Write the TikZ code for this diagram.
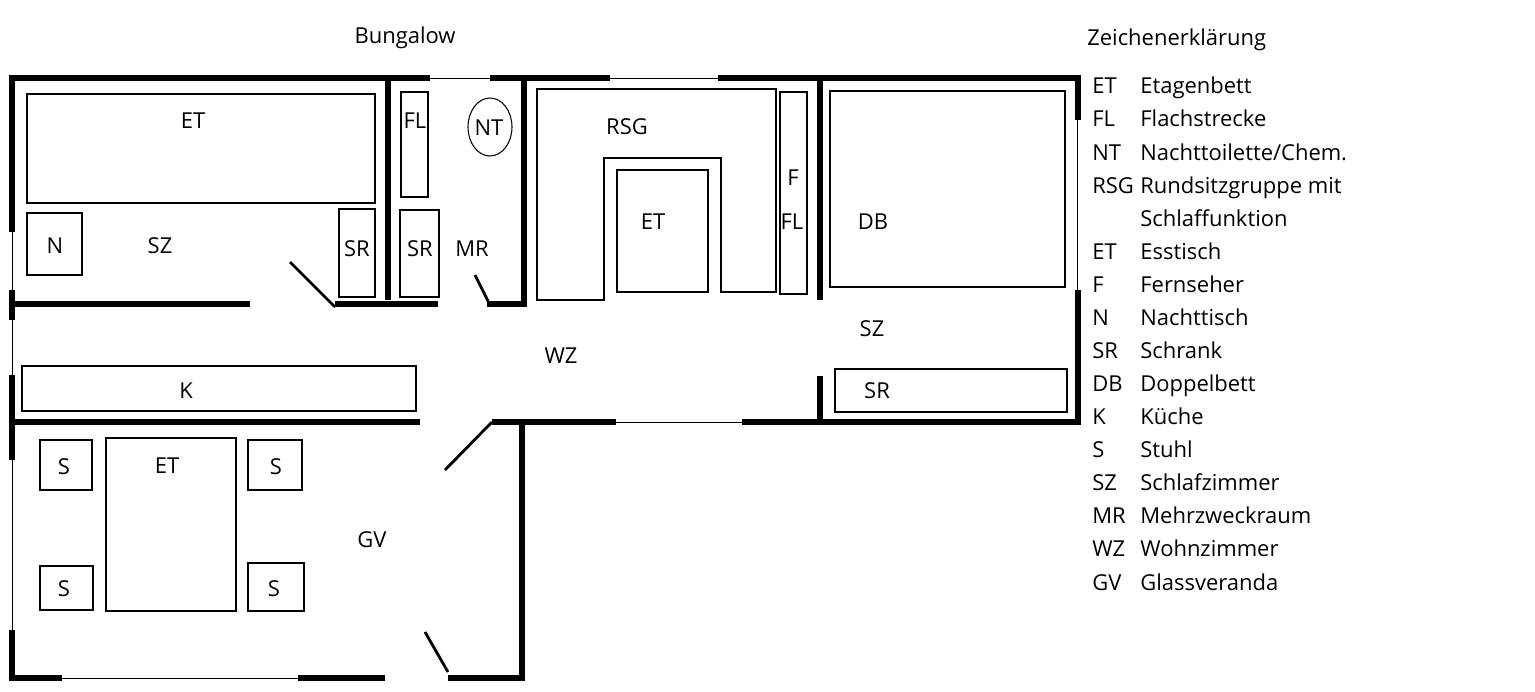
\documentclass[tikz,border=0pt]{standalone}
\usepackage{fontspec}
\setmainfont{Open Sans}
\begin{document}
\begin{tikzpicture}[x=0.02cm,y=-0.02cm,
  wall/.style={line width=3.4pt,line cap=butt},
  win/.style={line width=0.5pt},
  furn/.style={draw,line width=0.6pt},
  lbl/.style={font=\fontsize{12.5}{14}\selectfont,inner sep=0pt},
  lg/.style={font=\fontsize{12.5}{14}\selectfont,inner sep=0pt,anchor=west,text height=9pt,text depth=3pt}]
\useasboundingbox (0,0) rectangle (1535,691);
% outer walls
\draw[wall] (12,76) -- (12,232); \draw[wall] (12,290) -- (12,320); \draw[wall] (12,375) -- (12,460); \draw[wall] (12,630) -- (12,681);
\draw[win] (12,232) -- (12,290); \draw[win] (12,320) -- (12,375); \draw[win] (12,460) -- (12,630);
\draw[wall] (9,78) -- (430,78); \draw[wall] (490,78) -- (610,78); \draw[wall] (718,78) -- (1081,78);
\draw[win] (430,78) -- (490,78); \draw[win] (610,78) -- (718,78);
\draw[wall] (1078,75) -- (1078,120); \draw[wall] (1078,290) -- (1078,425);
\draw[win] (1077,120) -- (1077,290);
\draw[wall] (9,678) -- (62,678); \draw[wall] (298,678) -- (385,678); \draw[win] (62,678) -- (298,678);
\draw[wall] (448,678) -- (525,678); \draw[wall] (522,422) -- (522,681);
% interior walls
\draw[wall] (388,78) -- (388,300);
\draw[wall] (524,78) -- (524,307);
\draw[wall] (820,78) -- (820,300);
\draw[wall] (12,304) -- (250,304);
\draw[wall] (335,304) -- (438,304);
\draw[wall] (487,304) -- (527,304);
\draw[wall] (12,422) -- (420,422);
\draw[wall] (492,422) -- (616,422); \draw[wall] (742,422) -- (1081,422);
\draw[win] (616,422) -- (742,422);
\draw[wall] (820,376) -- (820,422);
% doors
\draw[line width=1.6pt] (290,262) -- (335,307);
\draw[line width=1.6pt] (475,275) -- (490,305);
\draw[line width=1.6pt] (445,470) -- (492,422);
\draw[line width=1.6pt] (425,632) -- (448,672);
% furniture
\draw[furn] (27,94) rectangle (375,203); \node[lbl] (et1) at (193,121) {ET};
\draw[furn] (27,213) rectangle (82,275); \node[lbl] (n1) at (55,246) {N};
\node[lbl] (sz1) at (160,246) {SZ};
\draw[furn] (339,209) rectangle (375,297); \node[lbl] (sr1) at (357,249) {SR};
\draw[furn] (401,92) rectangle (428,197); \node[lbl] (fl1) at (415,121) {FL};
\draw[furn] (490,127) ellipse (22 and 29); \node[lbl] (nt) at (489,128) {NT};
\draw[furn] (400,210) rectangle (439,297); \node[lbl] (sr2) at (420,249) {SR};
\node[lbl] (mr) at (472,249) {MR};
\draw[furn] (537,89) -- (776,89) -- (776,292) -- (721,292) -- (721,158) -- (604,158) -- (604,300) -- (537,300) -- cycle;
\node[lbl] (rsg) at (627,127) {RSG};
\draw[furn] (617,170) rectangle (708,292); \node[lbl] (et2) at (653,222) {ET};
\draw[furn] (780,92) rectangle (807,294); \node[lbl] (f) at (793,178) {F}; \node[lbl] (fl2) at (792,222) {FL};
\draw[furn] (830,91) rectangle (1065,287); \node[lbl] (db) at (873,222) {DB};
\node[lbl] (sz2) at (872,329) {SZ};
\draw[furn] (835,369) rectangle (1067,412); \node[lbl] (sr3) at (877,391) {SR};
\node[lbl] (wz) at (561,356) {WZ};
\draw[furn] (22,366) rectangle (416,411); \node[lbl] (k) at (186,391) {K};
\draw[furn] (106,438) rectangle (236,611); \node[lbl] (et3) at (167,466) {ET};
\draw[furn] (40,440) rectangle (92,490); \node[lbl] (s1) at (64,467) {S};
\draw[furn] (248,440) rectangle (302,490); \node[lbl] (s2) at (276,467) {S};
\draw[furn] (40,566) rectangle (93,610); \node[lbl] (s3) at (64,589) {S};
\draw[furn] (248,563) rectangle (304,611); \node[lbl] (s4) at (274,589) {S};
\node[lbl] (gv) at (372,540) {GV};
\node[lbl] (title) at (405,38) {Bungalow};
% legend
\node[lg] (lt) at (1087,40) {Zeichenerklärung};
\foreach \a/\b/\y [count=\i] in {ET/Etagenbett/88,FL/Flachstrecke/121,NT/Nachttoilette\slash Chem./155,RSG/Rundsitzgruppe mit/188,/Schlaffunktion/221,ET/Esstisch/254,F/Fernseher/287,N/Nachttisch/320,SR/Schrank/353,DB/Doppelbett/386,K/Küche/419,S/Stuhl/452,SZ/Schlafzimmer/485,MR/Mehrzweckraum/518,WZ/Wohnzimmer/551,GV/Glassveranda/585}
{ \node[lg] (la\i) at (1092,\y) {\a}; \node[lg] (lb\i) at (1140,\y) {\b}; }
\end{tikzpicture}
\end{document}
